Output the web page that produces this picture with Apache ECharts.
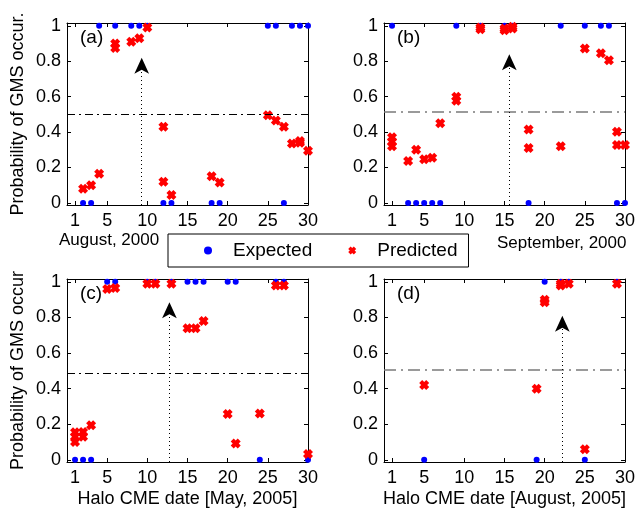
<!DOCTYPE html>
<html>
<head>
<meta charset="utf-8">
<script src="https://cdn.jsdelivr.net/npm/echarts@6/dist/echarts.min.js"></script>
<style>
  html, body { margin: 0; padding: 0; background: #fff; }
  #chart { width: 638px; height: 512px; }
</style>
</head>
<body>
<div id="chart"></div>
<script>
// tick labels
var xTicks = [1, 5, 10, 15, 20, 25, 30];
var yTicks = [0, 0.2, 0.4, 0.6, 0.8, 1];

// (a) August, 2000
var augExpDays = [2, 3, 4, 6, 8, 9, 10, 12, 13, 18, 19, 25, 26, 27, 28, 29, 30];
var augExpVals = [0, 0, 1, 1, 1, 1, 1, 0, 0, 0, 0, 1, 1, 0, 1, 1, 1];
var augPredDays = [2, 3, 4, 6, 6, 8, 9, 10, 12, 12, 13, 18, 19, 25, 26, 27, 28, 29, 29, 30];
var augPredVals = [0.08, 0.10, 0.165, 0.90, 0.875, 0.91, 0.93, 0.99, 0.43, 0.12, 0.045, 0.15, 0.115, 0.495, 0.465, 0.43, 0.335, 0.35, 0.34, 0.295];

// (b) September, 2000
var sepExpDays = [1, 3, 4, 5, 6, 7, 9, 12, 15, 16, 18, 22, 25, 27, 28, 29, 30];
var sepExpVals = [1, 0, 0, 0, 0, 0, 1, 1, 1, 1, 0, 1, 1, 1, 1, 0, 0];
var sepPredDays = [1, 1, 1, 3, 4, 5, 6, 7, 9, 9, 12, 12, 15, 15, 16, 16, 18, 18, 22, 25, 27, 28, 29, 29, 30];
var sepPredVals = [0.37, 0.345, 0.32, 0.237, 0.30, 0.247, 0.255, 0.45, 0.60, 0.577, 0.99, 0.98, 0.985, 0.975, 0.995, 0.985, 0.415, 0.31, 0.32, 0.872, 0.845, 0.806, 0.402, 0.327, 0.327];

// (c) May, 2005
var mayExpDays = [1, 2, 3, 5, 6, 10, 11, 13, 15, 16, 17, 20, 21, 24, 26, 27, 30];
var mayExpVals = [0, 0, 0, 1, 1, 1, 1, 1, 1, 1, 1, 1, 1, 0, 1, 1, 0];
var mayPredDays = [1, 1, 1, 2, 2, 3, 5, 6, 10, 11, 13, 15, 16, 17, 20, 21, 24, 26, 27, 30];
var mayPredVals = [0.155, 0.13, 0.10, 0.157, 0.13, 0.195, 0.96, 0.965, 0.99, 0.99, 0.99, 0.74, 0.74, 0.78, 0.257, 0.092, 0.26, 0.98, 0.98, 0.033];

// (d) August, 2005
var aug05ExpDays = [5, 19, 20, 22, 23, 25, 29];
var aug05ExpVals = [0, 0, 1, 1, 1, 0, 1];
var aug05PredDays = [5, 19, 20, 20, 22, 22, 23, 25, 29];
var aug05PredVals = [0.42, 0.40, 0.90, 0.885, 0.99, 0.98, 0.99, 0.06, 0.99];

// threshold level, halo CME date and arrow tip per panel
var thresholds = [0.5, 0.515, 0.486, 0.505];
var cmeDays = [9.3, 15.6, 12.75, 22.2];
var arrowTips = [0.82, 0.84, 0.885, 0.81];

var FONT = '"Liberation Sans", Arial, sans-serif';
var CROSS = 'path://M0,3 L3,0 L5,2 L7,0 L10,3 L8,5 L10,7 L7,10 L5,8 L3,10 L0,7 L2,5 Z';
var YMIN = -0.012, YMAX = 1.016;

var panels = [
  { exp: [augExpDays, augExpVals], pred: [augPredDays, augPredVals], tag: '(a)',
    grid: { left: 67, top: 23, width: 241, height: 182 }, yName: 'Probability of GMS occur.', xName: '', thrColor: '#000', thrDash: [8, 4, 2, 4], thrWidth: 1 },
  { exp: [sepExpDays, sepExpVals], pred: [sepPredDays, sepPredVals], tag: '(b)',
    grid: { left: 384, top: 23, width: 242, height: 182 }, yName: '', xName: '', thrColor: '#7a7a7a', thrDash: [12, 5, 2, 5], thrWidth: 1.5 },
  { exp: [mayExpDays, mayExpVals], pred: [mayPredDays, mayPredVals], tag: '(c)',
    grid: { left: 67, top: 279, width: 241, height: 183 }, yName: 'Probability of GMS occur', xName: 'Halo CME date [May, 2005]', thrColor: '#000', thrDash: [8, 4, 2, 4], thrWidth: 1 },
  { exp: [aug05ExpDays, aug05ExpVals], pred: [aug05PredDays, aug05PredVals], tag: '(d)',
    grid: { left: 384, top: 279, width: 242, height: 183 }, yName: '', xName: 'Halo CME date [August, 2005]', thrColor: '#7a7a7a', thrDash: [12, 5, 2, 5], thrWidth: 1.5 }
];

function zip(a, b) {
  return a.map(function (d, i) { return [d, b[i]]; });
}

var grids = [], xAxes = [], yAxes = [], series = [], graphics = [];

panels.forEach(function (p, i) {
  grids.push(Object.assign({ show: false }, p.grid));
  var tick = { show: true, inside: true, length: 4, lineStyle: { color: '#000' } };
  var line = { show: true, onZero: false, lineStyle: { color: '#000', width: 1 } };
  xAxes.push({
    gridIndex: i, type: 'value', min: 0, max: 30, position: 'bottom',
    axisLine: line, splitLine: { show: false },
    axisTick: Object.assign({ customValues: xTicks }, tick),
    axisLabel: { customValues: xTicks, color: '#000', fontSize: 18, fontFamily: FONT, margin: 7 },
    name: p.xName, nameLocation: 'middle', nameGap: 28,
    nameTextStyle: { color: '#000', fontSize: 18, fontFamily: FONT }
  });
  xAxes.push({
    gridIndex: i, type: 'value', min: 0, max: 30, position: 'top',
    axisLine: line, splitLine: { show: false },
    axisTick: Object.assign({ customValues: xTicks }, tick),
    axisLabel: { show: false }
  });
  yAxes.push({
    gridIndex: i, type: 'value', min: YMIN, max: YMAX, position: 'left',
    axisLine: line, splitLine: { show: false },
    axisTick: Object.assign({ customValues: yTicks }, tick),
    axisLabel: { customValues: yTicks, color: '#000', fontSize: 18, fontFamily: FONT, margin: 6 },
    name: p.yName, nameLocation: 'middle', nameGap: 40,
    nameTextStyle: { color: '#000', fontSize: 18, fontFamily: FONT }
  });
  yAxes.push({
    gridIndex: i, type: 'value', min: YMIN, max: YMAX, position: 'right',
    axisLine: line, splitLine: { show: false },
    axisTick: Object.assign({ customValues: yTicks }, tick),
    axisLabel: { show: false }
  });

  series.push({
    name: 'Expected', type: 'scatter', xAxisIndex: 2 * i, yAxisIndex: 2 * i,
    data: zip(p.exp[0], p.exp[1]), symbol: 'circle', symbolSize: 6, clip: false,
    itemStyle: { color: '#0000ff', opacity: 1 }, z: 3
  });
  series.push({
    name: 'Predicted', type: 'scatter', xAxisIndex: 2 * i, yAxisIndex: 2 * i,
    data: zip(p.pred[0], p.pred[1]), symbol: CROSS, symbolSize: 10, clip: false,
    itemStyle: { color: '#ff0000', opacity: 1 }, z: 4
  });
  series.push({
    name: 'guides', type: 'line', xAxisIndex: 2 * i, yAxisIndex: 2 * i, data: [],
    markLine: {
      silent: true, animation: false, label: { show: false },
      data: [
        [{ coord: [0, thresholds[i]], symbol: 'none' },
         { coord: [30, thresholds[i]], symbol: 'none',
           lineStyle: { color: p.thrColor, type: p.thrDash, width: p.thrWidth } }],
        [{ coord: [cmeDays[i], YMIN], symbol: 'none' },
         { coord: [cmeDays[i], arrowTips[i]], symbol: 'arrow', symbolSize: [11, 16],
           lineStyle: { color: '#000', type: [1, 3], width: 1 } }]
      ],
      lineStyle: { color: '#000' },
      itemStyle: { color: '#000' }
    }
  });

  graphics.push({
    type: 'text', left: p.grid.left + 13, top: p.grid.top + 5,
    style: { text: p.tag, font: '19px ' + FONT, fill: '#000' }
  });
});

graphics.push({ type: 'text', left: 59, top: 232, style: { text: 'August, 2000', font: '17px ' + FONT, fill: '#000' } });
graphics.push({ type: 'text', left: 497, top: 235, style: { text: 'September, 2000', font: '17px ' + FONT, fill: '#000' } });

var myChart = echarts.init(document.getElementById('chart'), null, { renderer: 'canvas' });

var option = {
  animation: false,
  backgroundColor: '#fff',
  grid: grids,
  xAxis: xAxes,
  yAxis: yAxes,
  legend: {
    data: [{ name: 'Expected', icon: 'circle' }, { name: 'Predicted', icon: CROSS }],
    left: 168, top: 234, orient: 'horizontal',
    padding: [7, 11, 7, 36], itemGap: 36, itemWidth: 30, itemHeight: 8,
    borderColor: '#000', borderWidth: 1, selectedMode: false,
    formatter: '{t|{name}}',
    textStyle: { color: '#000', fontSize: 19, fontFamily: FONT,
      rich: { t: { fontSize: 19, fontFamily: FONT, color: '#000', padding: [0, 0, 0, 5] } } }
  },
  graphic: graphics,
  series: series
};

myChart.setOption(option);
</script>
</body>
</html>
